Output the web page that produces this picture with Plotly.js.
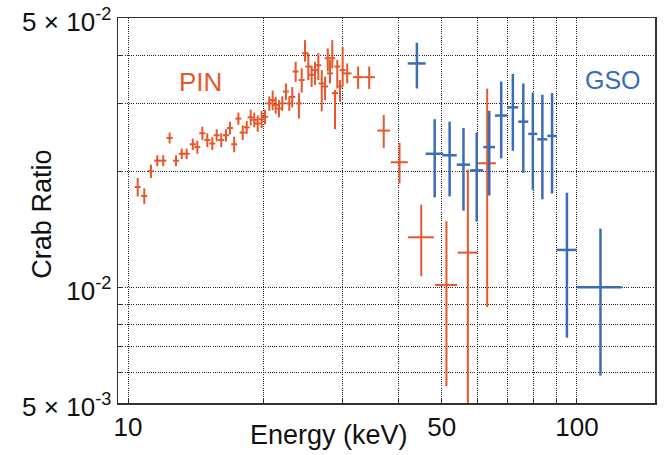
<!DOCTYPE html>
<html>
<head>
<meta charset="utf-8">
<script src="https://cdn.plot.ly/plotly-3.0.1.min.js"></script>
<style>html,body{margin:0;padding:0;background:#fff;}#chart{width:667px;height:455px;}</style>
</head>
<body>
<div id="chart"></div>
<script>
// PIN data (energy keV, half bin width, Crab ratio, errors)
const pinE = [10.51,10.87,11.25,11.62,11.98,12.38,12.79,13.17,13.51,13.94,14.27,14.64,15.02,15.41,15.76,16.13,16.53,16.87,17.24,17.61,18.01,18.38,18.76,19.11,19.45,19.85,20.19,20.64,21.00,21.33,21.69,22.06,22.48,22.87,23.22,23.63,24.03,24.37,24.79,25.21,25.65,26.09,26.54,27.01,27.47,27.86,28.18,28.51,28.91,29.25,29.66,30.07,30.78,32.55,34.45,37.12,40.25,45.0,51.2,57.15,63.1];
const pinEErr = [0.16,0.17,0.17,0.18,0.19,0.19,0.20,0.20,0.21,0.22,0.22,0.23,0.23,0.24,0.24,0.25,0.26,0.26,0.27,0.27,0.28,0.28,0.29,0.30,0.30,0.31,0.31,0.32,0.33,0.33,0.34,0.34,0.35,0.35,0.36,0.37,0.37,0.38,0.38,0.39,0.40,0.40,0.41,0.42,0.43,0.43,0.44,0.44,0.45,0.45,0.46,0.47,0.70,0.83,1.03,1.21,1.75,3.0,2.9,2.9,2.9];
const pinR = [0.0182,0.01725,0.0200,0.0213,0.0213,0.0244,0.0213,0.0222,0.0222,0.0235,0.0231,0.0251,0.0241,0.0236,0.0248,0.0241,0.0248,0.0259,0.0235,0.0274,0.0252,0.0260,0.0276,0.0272,0.0266,0.0273,0.0277,0.0300,0.0306,0.0297,0.0291,0.0300,0.0322,0.0300,0.0312,0.0363,0.0300,0.0345,0.0405,0.0374,0.0356,0.0366,0.0377,0.0338,0.0332,0.0393,0.0359,0.0393,0.0319,0.0374,0.0332,0.0366,0.0359,0.0351,0.0351,0.0255,0.0211,0.01347,0.01013,0.01229,0.02097];
const pinRErrPlus = [0.0010,0.0008,0.0008,0.0007,0.0007,0.0008,0.0007,0.0007,0.0007,0.0008,0.0009,0.0010,0.0010,0.0009,0.0009,0.0010,0.0009,0.0010,0.0011,0.0010,0.0011,0.0010,0.0013,0.0012,0.0013,0.0014,0.0012,0.0013,0.0018,0.0015,0.0015,0.0013,0.0016,0.0013,0.0019,0.0022,0.0019,0.0025,0.0033,0.0031,0.0020,0.0019,0.0028,0.0028,0.0020,0.0024,0.0030,0.0045,0.0006,0.0015,0.0013,0.0055,0.0022,0.0023,0.0023,0.0025,0.0026,0.0029,0.0047,0.0079,0.0118];
const pinRErrMinus = [0.0010,0.0008,0.0008,0.0007,0.0007,0.0008,0.0007,0.0007,0.0007,0.0008,0.0009,0.0010,0.0010,0.0009,0.0009,0.0010,0.0009,0.0010,0.0011,0.0010,0.0011,0.0010,0.0013,0.0012,0.0013,0.0014,0.0012,0.0013,0.0018,0.0015,0.0015,0.0013,0.0016,0.0013,0.0019,0.0022,0.0026,0.0025,0.0020,0.0029,0.0025,0.0031,0.0032,0.0052,0.0026,0.0030,0.0021,0.0023,0.0062,0.0046,0.0029,0.0034,0.0021,0.0024,0.0024,0.0025,0.0025,0.0028,0.0046,0.0073,0.0121];

// GSO data
const gsoE = [44.0,48.2,52.04,55.87,59.8,63.77,67.8,71.97,75.94,79.74,83.73,88.0,94.98,112.8];
const gsoEErr = [2.03,2.17,1.92,1.9,2.04,1.92,2.14,2.0,1.96,1.84,2.15,2.12,4.86,13.0];
const gsoR = [0.0381,0.0222,0.0220,0.0208,0.0201,0.0231,0.0279,0.0293,0.0269,0.0250,0.0242,0.0247,0.01249,0.00999];
const gsoRErrPlus = [0.0050,0.0051,0.0049,0.0051,0.0051,0.0056,0.0063,0.0065,0.0069,0.0070,0.0074,0.0072,0.0051,0.0042];
const gsoRErrMinus = [0.0053,0.0051,0.0048,0.0050,0.0053,0.0058,0.0063,0.0067,0.0071,0.0071,0.0073,0.0072,0.0051,0.0041];

// Axis ticks
const xTickVals = [10,50,100];
const xTickText = ['10','50','100'];
const xMinorVals = [20,30,40,60,70,80,90];
const yTickVals = [0.005,0.01,0.05];
const yTickText = ['5 \u00d7 10<sup>-3</sup>','10<sup>-2</sup>','5 \u00d7 10<sup>-2</sup>'];
const yMinorVals = [0.006,0.007,0.008,0.009,0.02,0.03,0.04];

const ORANGE = '#E8572B';
const BLUE = '#3A6DB5';
const FONT = 'Liberation Sans, Arial, Helvetica, sans-serif';
const GRIDDASH = '1px,1.2px';
const GRIDCOLOR = '#222';

function trace(x, xe, y, yp, ym, color, w, name) {
  return {
    type: 'scatter', mode: 'markers', name: name,
    x: x, y: y,
    marker: {size: 1, color: 'rgba(0,0,0,0)'},
    error_x: {type: 'data', array: xe, arrayminus: xe, symmetric: false, color: color, thickness: w, width: 0},
    error_y: {type: 'data', array: yp, arrayminus: ym, symmetric: false, color: color, thickness: w, width: 0},
    showlegend: false, hoverinfo: 'x+y'
  };
}

const data = [
  trace(pinE, pinEErr, pinR, pinRErrPlus, pinRErrMinus, ORANGE, 2, 'PIN'),
  trace(gsoE, gsoEErr, gsoR, gsoRErrPlus, gsoRErrMinus, BLUE, 2.5, 'GSO')
];

function axis(range, vals, text, minorVals, extra) {
  return Object.assign({
    type: 'log', range: range,
    showline: true, mirror: true, linecolor: '#333', linewidth: 1.5,
    showgrid: true, gridcolor: GRIDCOLOR, gridwidth: 1, griddash: GRIDDASH,
    ticks: 'inside', ticklen: 5, tickcolor: '#333', tickwidth: 1,
    tickmode: 'array', tickvals: vals, ticktext: text,
    minor: {tickmode: 'array', tickvals: minorVals, ticks: 'inside', ticklen: 5, tickcolor: '#333',
            showgrid: true, gridcolor: GRIDCOLOR, gridwidth: 1, griddash: GRIDDASH},
    zeroline: false, tickfont: {family: FONT, size: 26, color: '#111'}
  }, extra || {});
}

const layout = {
  width: 667, height: 455,
  margin: {l: 118, r: 12, t: 18, b: 52},
  paper_bgcolor: '#fff', plot_bgcolor: '#fff',
  font: {family: FONT, color: '#111'},
  xaxis: axis([Math.log10(9.5), Math.log10(149.2)], xTickVals, xTickText, xMinorVals),
  yaxis: axis([Math.log10(0.005), Math.log10(0.05)], yTickVals, yTickText, yMinorVals,
              {ticklabelshift: 4, ticklabeloverflow: 'allow'}),
  annotations: [
    {text: 'PIN', xref: 'paper', yref: 'paper', x: 0.153, y: 0.834, showarrow: false,
     font: {family: FONT, size: 26, color: ORANGE}, xanchor: 'center', yanchor: 'middle'},
    {text: 'GSO', xref: 'paper', yref: 'paper', x: 0.921, y: 0.839, showarrow: false,
     font: {family: FONT, size: 25, color: BLUE}, xanchor: 'center', yanchor: 'middle'},
    {text: 'Energy (keV)', xref: 'paper', yref: 'paper', x: 0.393, y: -0.083, showarrow: false,
     font: {family: FONT, size: 27, color: '#111'}, xanchor: 'center', yanchor: 'middle'},
    {text: 'Crab Ratio', xref: 'paper', yref: 'paper', x: -0.141, y: 0.49, showarrow: false, textangle: -90,
     font: {family: FONT, size: 27, color: '#111'}, xanchor: 'center', yanchor: 'middle'}
  ]
};

Plotly.newPlot('chart', data, layout, {staticPlot: true, displayModeBar: false});
</script>
</body>
</html>
